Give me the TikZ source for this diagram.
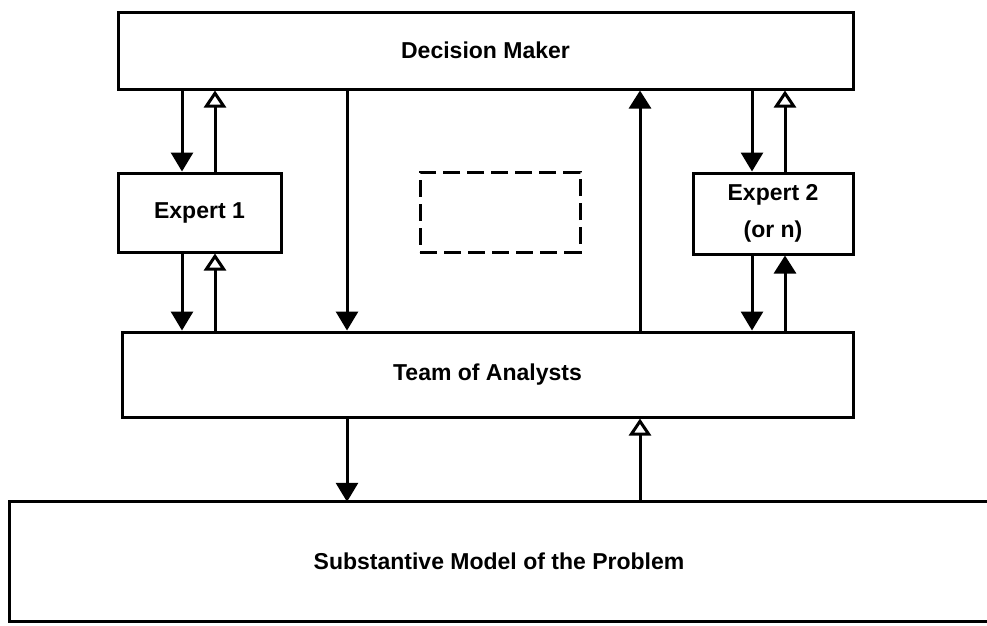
\documentclass[tikz,border=0pt]{standalone}
\usepackage{fontspec}
\newfontfamily\lblfont{Liberation Sans Bold}
\usetikzlibrary{arrows.meta}
\begin{document}
\begin{tikzpicture}[x=1pt,y=-1pt,
  lbl/.style={font=\lblfont\fontsize{23}{37}\selectfont, align=center},
  box/.style={draw, line width=3pt, inner sep=0pt, lbl},
  dashbox/.style={draw, line width=3pt, inner sep=0pt,
    dash pattern=on 17pt off 7pt},
  link/.style={line width=3pt},
  down/.style={link, -{Triangle[width=22pt,length=19pt]}},
  upfill/.style={link, -{Triangle[width=22pt,length=18pt]}},
  upopen/.style={link, -{Triangle[open,width=22pt,length=17pt,line width=3pt]}}]
\useasboundingbox (0,0) rectangle (987,625);
\clip (0,0) rectangle (987,625);
\fill[white] (0,0) rectangle (987,625);

% boxes
\node[box, minimum width=735pt, minimum height=77pt] (dm) at (485.5,50.5) {Decision Maker};
\node[box, minimum width=163pt, minimum height=79pt] (e1) at (199.5,212.5) {Expert 1};
\node[dashbox, minimum width=160pt, minimum height=80pt] (open) at (500,212) {};
\node[box, minimum width=160pt, minimum height=81pt] (e2) at (773,213.5) {Expert 2\\(or n)};
\node[box, minimum width=731pt, minimum height=85pt] (ta) at (487.5,374.5) {Team of Analysts};
% the model box runs on past the right edge: only three sides are drawn
\node[inner sep=0pt, minimum width=1000pt, minimum height=119pt] (sm) at (510,561.5) {};
\draw[line width=3pt] (sm.north east) -- (sm.north west) -- (sm.south west) -- (sm.south east);
\node[lbl] (smtext) at (499,561.5) {Substantive Model of the Problem};

% columns of the connectors
\coordinate (xa) at (182,0);
\coordinate (xb) at (215,0);
\coordinate (xc) at (347,0);
\coordinate (xd) at (640,0);
\coordinate (xe) at (752,0);
\coordinate (xf) at (785,0);

% decision maker <-> expert 1 <-> team
\draw[down]   (dm.south -| xa) -- (e1.north -| xa);
\draw[upopen] (e1.north -| xb) -- (dm.south -| xb);
\draw[down]   (e1.south -| xa) -- (ta.north -| xa);
\draw[upopen] (ta.north -| xb) -- (e1.south -| xb);

% decision maker <-> team directly
\draw[down]   (dm.south -| xc) -- (ta.north -| xc);
\draw[upfill] (ta.north -| xd) -- (dm.south -| xd);

% decision maker <-> expert 2 <-> team
\draw[down]   (dm.south -| xe) -- (e2.north -| xe);
\draw[upopen] (e2.north -| xf) -- (dm.south -| xf);
\draw[down]   (e2.south -| xe) -- (ta.north -| xe);
\draw[upfill] (ta.north -| xf) -- (e2.south -| xf);

% team <-> substantive model
\draw[down]   (ta.south -| xc) -- (sm.north -| xc);
\draw[upopen] (sm.north -| xd) -- (ta.south -| xd);
\end{tikzpicture}
\end{document}
